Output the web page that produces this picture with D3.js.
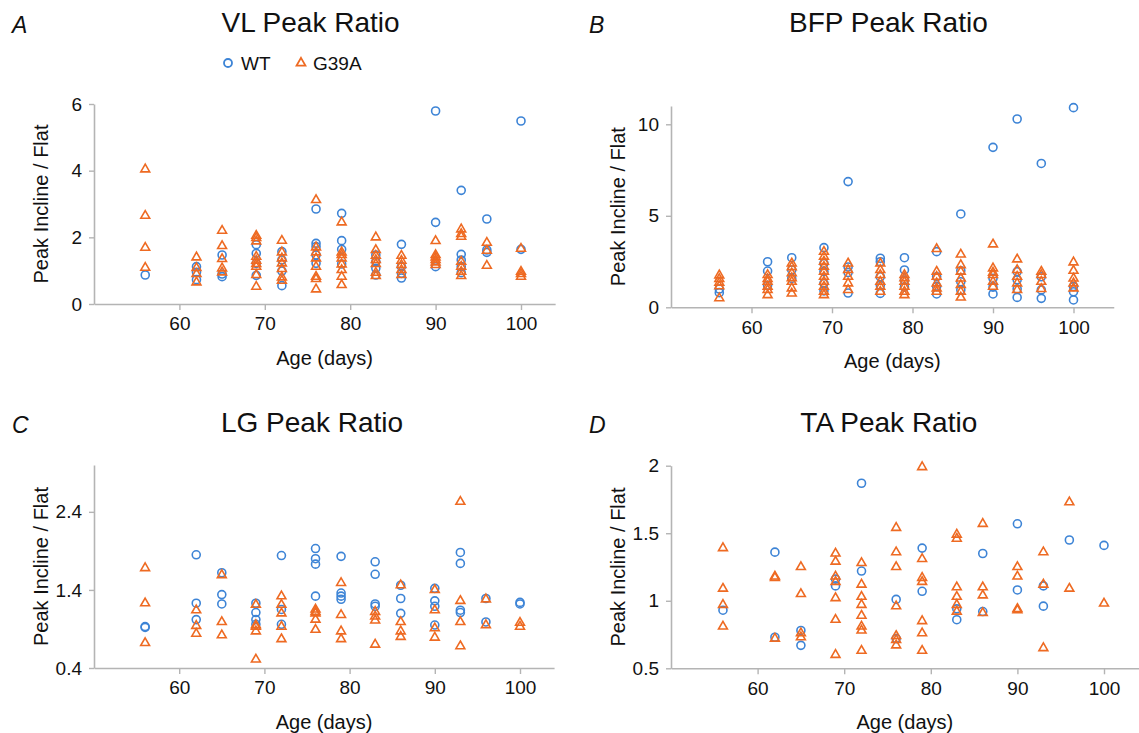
<!DOCTYPE html>
<html>
<head>
<meta charset="utf-8">
<script src="https://cdn.jsdelivr.net/npm/d3@7"></script>
<style>
  body { margin: 0; background: #fff; }
  svg { font-family: "Liberation Sans", Arial, sans-serif; }
</style>
</head>
<body>
<svg id="chart" width="1139" height="733"></svg>
<script>
// ages sampled (days)
const ages = [56, 62, 65, 69, 72, 76, 79, 83, 86, 90, 93, 96, 100];

// VL peak ratio, one list per age
const vlWT = [[0.87], [1.12, 0.95, 0.73], [1.47, 0.9, 0.82], [1.78, 1.52, 1.22, 0.86], [1.57, 1.32, 0.99, 0.55],
  [2.85, 1.82, 1.72, 1.47, 1.22], [2.72, 1.9, 1.64, 1.2], [1.47, 1.27, 1.07, 0.87], [1.79, 1.12, 0.92, 0.78],
  [5.79, 2.45, 1.12], [3.41, 1.49, 1.32, 1.12, 0.94], [2.55, 1.62, 1.55], [5.49, 1.64]];
const vlG39A = [[4.04, 2.65, 1.69, 1.09], [1.4, 1.08, 0.9, 0.65], [2.2, 1.74, 1.35, 1.07, 0.95],
  [2.05, 1.98, 1.88, 1.42, 1.3, 1.2, 1.12, 0.87, 0.52], [1.9, 1.55, 1.37, 1.22, 1.05, 0.8, 0.7],
  [3.12, 1.7, 1.55, 1.37, 1.12, 0.82, 0.75, 0.44], [2.45, 1.55, 1.47, 1.37, 1.19, 1.02, 0.82, 0.57],
  [2.0, 1.62, 1.45, 1.32, 1.2, 0.94, 0.84], [1.45, 1.3, 1.17, 1.02, 0.87], [1.89, 1.47, 1.4, 1.32, 1.25, 1.17],
  [2.24, 2.1, 2.02, 1.27, 1.12, 0.97, 0.84], [1.84, 1.6, 1.15], [1.66, 0.97, 0.9, 0.82]];

// BFP peak ratio
const bfpWT = [[1.0, 0.8], [2.49, 1.98, 1.2], [2.71, 2.04, 1.58], [3.26, 2.4, 1.95, 1.31, 0.9], [6.87, 2.2, 1.9, 0.78],
  [2.68, 2.49, 1.67, 1.2, 0.76], [2.71, 2.04, 1.49, 1.1], [3.04, 1.67, 1.13, 0.73], [5.1, 2.0, 1.4, 0.95],
  [8.74, 1.58, 1.1, 0.73], [10.29, 1.95, 1.5, 1.0, 0.54], [7.86, 1.67, 0.95, 0.49], [10.91, 1.13, 0.85, 0.4]];
const bfpG39A = [[1.75, 1.55, 1.35, 1.15, 0.5], [1.77, 1.55, 1.4, 1.13, 0.95, 0.67], [2.4, 2.2, 1.86, 1.6, 1.4, 1.04, 0.76],
  [3.04, 2.77, 2.5, 2.22, 1.95, 1.67, 1.4, 1.13, 0.85, 0.67], [2.4, 2.04, 1.67, 1.31, 0.95],
  [2.4, 2.04, 1.77, 1.4, 1.13, 0.85], [1.77, 1.6, 1.4, 1.13, 0.85, 0.67], [3.19, 1.95, 1.67, 1.31, 1.04, 0.85],
  [2.89, 2.31, 1.95, 1.58, 1.22, 0.85, 0.54], [3.44, 2.13, 1.9, 1.77, 1.4, 1.13], [2.62, 2.04, 1.67, 1.31, 0.95],
  [1.95, 1.77, 1.4, 1.0], [2.46, 2.0, 1.58, 1.31, 1.04]];

// LG peak ratio
const lgWT = [[0.93, 0.92], [1.85, 1.23, 1.02], [1.62, 1.34, 1.22], [1.23, 1.11, 1.02, 0.96], [1.84, 1.15, 0.96],
  [1.93, 1.8, 1.73, 1.32], [1.83, 1.36, 1.32, 1.28], [1.76, 1.6, 1.22, 1.19], [1.46, 1.29, 1.1],
  [1.42, 1.26, 1.19, 0.95], [1.88, 1.74, 1.14, 1.11], [1.29, 0.99], [1.24, 1.22]];
const lgG39A = [[1.68, 1.23, 0.72], [1.14, 0.94, 0.84], [1.59, 0.99, 0.82], [1.21, 0.95, 0.93, 0.87, 0.51],
  [1.32, 1.21, 1.1, 0.93, 0.77], [1.15, 1.12, 1.1, 1.02, 0.89], [1.49, 1.08, 0.87, 0.77], [1.12, 1.06, 1.01, 0.7],
  [1.46, 0.99, 0.87, 0.8], [1.4, 1.14, 0.91, 0.79], [2.53, 1.26, 0.99, 0.68], [1.28, 0.95], [0.98, 0.93]];

// TA peak ratio
const taWT = [[0.93], [1.36, 0.73], [0.78, 0.67], [1.16, 1.11], [1.87, 1.22], [1.01, 0.72], [1.39, 1.07],
  [0.94, 0.86], [1.35, 0.92], [1.57, 1.08], [1.11, 0.96], [1.45], [1.41]];
const taG39A = [[1.39, 1.09, 0.97, 0.81], [1.18, 1.17, 0.72], [1.25, 1.05, 0.76, 0.73],
  [1.35, 1.29, 1.18, 1.14, 1.02, 0.86, 0.6], [1.28, 1.12, 1.03, 0.97, 0.89, 0.81, 0.78, 0.63],
  [1.54, 1.36, 1.25, 0.96, 0.74, 0.71, 0.67], [1.99, 1.31, 1.17, 1.14, 0.85, 0.76, 0.63],
  [1.49, 1.46, 1.1, 1.03, 0.97, 0.92], [1.57, 1.1, 1.04, 0.91], [1.25, 1.18, 0.94, 0.93],
  [1.36, 1.12, 0.65], [1.73, 1.09], [0.98]];

const xTicks = [60, 70, 80, 90, 100];
const vlTicks = [0, 2, 4, 6];
const bfpTicks = [0, 5, 10];
const lgTicks = [0.4, 1.4, 2.4];
const taTicks = [0.5, 1, 1.5, 2];

const BLUE = "#3d84d6";
const ORANGE = "#ee6a22";
const AXIS = "#b4b4b4";

const panels = [
  { letter: "A", title: "VL Peak Ratio", wt: vlWT, g: vlG39A, yDomain: [0, 6], yTicks: vlTicks, fmt: d3.format("d"),
    left: 94, perDay: 8.54, xMax: 104, top: 104, bottom: 304, titleShift: -14, legend: true },
  { letter: "B", title: "BFP Peak Ratio", wt: bfpWT, g: bfpG39A, yDomain: [0, 11], yTicks: bfpTicks, fmt: d3.format("d"),
    left: 671, perDay: 8.05, xMax: 105, top: 106, bottom: 307.3, titleShift: -4 },
  { letter: "C", title: "LG Peak Ratio", wt: lgWT, g: lgG39A, yDomain: [0.4, 3.0], yTicks: lgTicks, fmt: d3.format(".1f"),
    left: 94, perDay: 8.52, xMax: 104, top: 465, bottom: 668, titleShift: -12 },
  { letter: "D", title: "TA Peak Ratio", wt: taWT, g: taG39A, yDomain: [0.5, 2], yTicks: taTicks, fmt: d => d3.format("")(d),
    left: 671, perDay: 8.66, xMax: 104, top: 465.7, bottom: 668.3, titleShift: -16 }
];

const svg = d3.select("#chart");
const tri = d3.symbol().type(d3.symbolTriangle).size(34);

function flatten(vals) {
  return ages.flatMap((a, i) => vals[i].map(v => ({ age: a, v: v })));
}

panels.forEach(p => {
  const x = d3.scaleLinear().domain([50, p.xMax]).range([p.left, p.left + (p.xMax - 50) * p.perDay]);
  const y = d3.scaleLinear().domain(p.yDomain).range([p.bottom, p.top]);
  const g = svg.append("g");
  const cx = (x.range()[0] + x.range()[1]) / 2;
  const cy = (p.top + p.bottom) / 2;
  const offY = p.letter === "A" || p.letter === "B" ? 0 : 400;

  // axes
  const xAxis = g.append("g").attr("transform", `translate(0,${p.bottom})`)
    .call(d3.axisBottom(x).tickValues(xTicks).tickSize(6).tickPadding(7).tickSizeOuter(0));
  const yAxis = g.append("g").attr("transform", `translate(${p.left},0)`)
    .call(d3.axisLeft(y).tickValues(p.yTicks).tickFormat(p.fmt).tickSize(5).tickPadding(7).tickSizeOuter(0));
  [xAxis, yAxis].forEach(a => {
    a.select(".domain").attr("stroke", AXIS).attr("stroke-width", 1.6);
    a.selectAll(".tick line").attr("stroke", AXIS).attr("stroke-width", 1.4);
    a.selectAll(".tick text").attr("fill", "#111").style("font-size", "19px")
      .style("font-family", "'Liberation Sans', Arial, sans-serif");
  });

  // titles
  g.append("text").attr("x", cx + p.titleShift).attr("y", 32 + offY).attr("text-anchor", "middle")
    .style("font-size", "28px").attr("fill", "#111").text(p.title);
  g.append("text").attr("x", p.left - 82).attr("y", 33 + offY)
    .style("font-size", "23px").style("font-style", "italic").attr("fill", "#111").text(p.letter);
  g.append("text").attr("x", cx).attr("y", p.bottom + 61).attr("text-anchor", "middle")
    .style("font-size", "20px").attr("fill", "#111").text("Age (days)");
  g.append("text").attr("transform", `translate(${p.left - 46},${cy}) rotate(-90)`).attr("text-anchor", "middle")
    .style("font-size", "20px").attr("fill", "#111").text("Peak Incline / Flat");

  // points
  g.append("g").selectAll("circle").data(flatten(p.wt)).join("circle")
    .attr("cx", d => x(d.age)).attr("cy", d => y(d.v)).attr("r", 4)
    .attr("fill", "none").attr("stroke", BLUE).attr("stroke-width", 1.6);
  g.append("g").selectAll("path").data(flatten(p.g)).join("path")
    .attr("d", tri).attr("transform", d => `translate(${x(d.age)},${y(d.v)})`)
    .attr("fill", "none").attr("stroke", ORANGE).attr("stroke-width", 1.6).attr("stroke-linejoin", "miter");

  if (p.legend) {
    const lg = g.append("g").attr("transform", "translate(228,63)");
    lg.append("circle").attr("r", 4).attr("fill", "none").attr("stroke", BLUE).attr("stroke-width", 1.8);
    lg.append("text").attr("x", 13).attr("y", 7).style("font-size", "19px").attr("fill", "#111").text("WT");
    lg.append("path").attr("d", tri).attr("transform", "translate(73,0)")
      .attr("fill", "none").attr("stroke", ORANGE).attr("stroke-width", 1.8);
    lg.append("text").attr("x", 85).attr("y", 7).style("font-size", "19px").attr("fill", "#111").text("G39A");
  }
});
</script>
</body>
</html>
